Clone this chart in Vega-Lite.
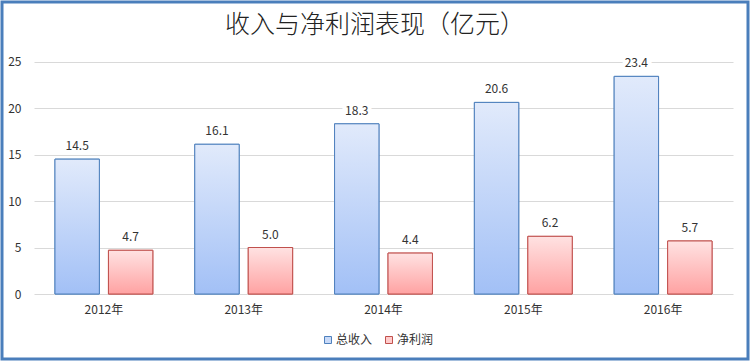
{
  "$schema": "https://vega.github.io/schema/vega-lite/v6.json",
  "width": 746,
  "height": 357,
  "padding": 2,
  "autosize": {"type": "none"},
  "background": "white",
  "title": {
    "text": "收入与净利润表现（亿元）",
    "orient": "top",
    "anchor": "middle",
    "frame": "group",
    "offset": -48,
    "baseline": "middle",
    "fontSize": 25,
    "fontWeight": 300,
    "font": "Noto Sans CJK SC",
    "color": "#222222"
  },
  "config": {
    "view": {"stroke": "#4a7ebb", "strokeWidth": 3},
    "font": "Noto Sans CJK SC"
  },
  "data": {
    "values": [
      {"year": "2012年", "series": "总收入", "value": 14.5},
      {"year": "2012年", "series": "净利润", "value": 4.7},
      {"year": "2013年", "series": "总收入", "value": 16.1},
      {"year": "2013年", "series": "净利润", "value": 5.0},
      {"year": "2014年", "series": "总收入", "value": 18.3},
      {"year": "2014年", "series": "净利润", "value": 4.4},
      {"year": "2015年", "series": "总收入", "value": 20.6},
      {"year": "2015年", "series": "净利润", "value": 6.2},
      {"year": "2016年", "series": "总收入", "value": 23.4},
      {"year": "2016年", "series": "净利润", "value": 5.7}
    ]
  },
  "encoding": {
    "x": {
      "field": "year",
      "type": "nominal",
      "scale": {"range": [32, 731], "paddingInner": 0.3, "paddingOuter": 0.15},
      "axis": {
        "title": null,
        "labelAngle": 0,
        "domain": false,
        "ticks": false,
        "labelPadding": 0,
        "offset": -55,
        "labelFontSize": 12,
        "labelColor": "#333333",
        "labelBaseline": "top"
      }
    },
    "xOffset": {
      "field": "series",
      "type": "nominal",
      "scale": {"domain": ["总收入", "净利润"], "paddingInner": 0.17}
    },
    "y": {
      "field": "value",
      "type": "quantitative",
      "scale": {"domain": [0, 25], "range": [292, 59.5], "nice": false, "zero": true},
      "axis": {
        "title": null,
        "values": [0, 5, 10, 15, 20, 25],
        "domain": false,
        "ticks": false,
        "tickSize": 0,
        "labelPadding": 0,
        "offset": -19,
        "labelFontSize": 12,
        "labelColor": "#333333",
        "gridColor": "#d9d9d9",
        "gridWidth": 1
      }
    }
  },
  "layer": [
    {
      "mark": {"type": "bar", "strokeWidth": 1},
      "encoding": {
        "fill": {
          "field": "series",
          "type": "nominal",
          "scale": {"domain": ["总收入", "净利润"], "range": ["#c9daf8", "#ffcccc"]},
          "legend": {
            "orient": "none",
            "legendX": 320,
            "legendY": 332,
            "direction": "horizontal",
            "title": null,
            "symbolType": "square",
            "symbolSize": 49,
            "symbolStrokeWidth": 1,
            "labelFontSize": 12,
            "labelColor": "#333333",
            "labelOffset": 2,
            "columnPadding": 10
          }
        },
        "stroke": {
          "field": "series",
          "type": "nominal",
          "scale": {"domain": ["总收入", "净利润"], "range": ["#4f81bd", "#c0504d"]}
        }
      }
    },
    {
      "transform": [{"filter": "datum.series === '总收入'"}],
      "mark": {
        "type": "bar",
        "strokeWidth": 1,
        "stroke": "#4f81bd",
        "fill": {
          "gradient": "linear",
          "x1": 0, "y1": 0, "x2": 0, "y2": 1,
          "stops": [
            {"offset": 0, "color": "#e1eafb"},
            {"offset": 1, "color": "#a2c0f6"}
          ]
        }
      }
    },
    {
      "transform": [{"filter": "datum.series === '净利润'"}],
      "mark": {
        "type": "bar",
        "strokeWidth": 1,
        "stroke": "#c0504d",
        "fill": {
          "gradient": "linear",
          "x1": 0, "y1": 0, "x2": 0, "y2": 1,
          "stops": [
            {"offset": 0, "color": "#ffe2e2"},
            {"offset": 1, "color": "#ffa2a2"}
          ]
        }
      }
    },
    {
      "mark": {
        "type": "text",
        "dy": -13,
        "fontSize": 12,
        "baseline": "middle",
        "stroke": "white",
        "strokeWidth": 8,
        "fill": "white"
      },
      "encoding": {
        "text": {"field": "value", "type": "quantitative", "format": ".1f"}
      }
    },
    {
      "mark": {
        "type": "text",
        "dy": -13,
        "fontSize": 12,
        "baseline": "middle",
        "color": "#333333"
      },
      "encoding": {
        "text": {"field": "value", "type": "quantitative", "format": ".1f"}
      }
    }
  ]
}
